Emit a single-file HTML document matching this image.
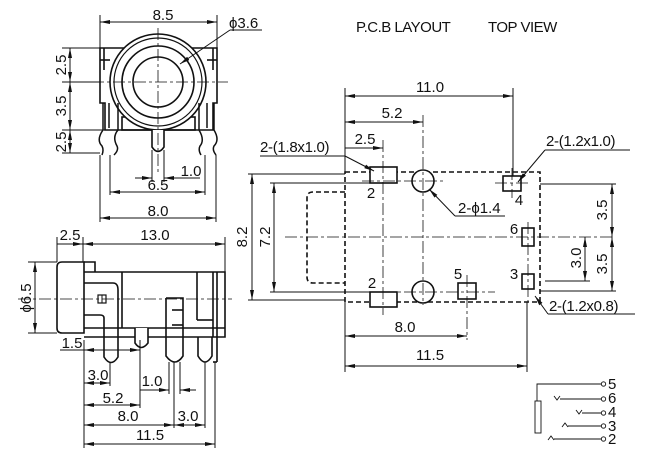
<!DOCTYPE html>
<html><head><meta charset="utf-8"><style>
html,body{margin:0;padding:0;background:#fff}
svg{display:block}
text{font-family:"Liberation Sans",sans-serif;font-size:15px;fill:#111}
</style></head><body>
<svg width="656" height="454" viewBox="0 0 656 454" xmlns="http://www.w3.org/2000/svg">
<defs>
<marker id="a" viewBox="0 0 10 4" refX="10" refY="2" markerWidth="10" markerHeight="4" orient="auto-start-reverse" markerUnits="userSpaceOnUse"><path d="M0,0L10,2L0,4z" fill="#111"/></marker>
</defs>
<g fill="none" stroke="#111" stroke-width="1">
<!-- FRONT VIEW -->
<line x1="100" y1="15" x2="100" y2="48"/><line x1="217" y1="15" x2="217" y2="48"/>
<line x1="100" y1="22" x2="217" y2="22" marker-start="url(#a)" marker-end="url(#a)"/>
<g stroke-width="1.6">
<path d="M100,48H217V103H213V130H105V103H100Z"/>
<line x1="104" y1="48" x2="104" y2="70"/><line x1="213" y1="48" x2="213" y2="70"/>
<line x1="100" y1="60" x2="110" y2="60"/><line x1="207" y1="60" x2="217" y2="60"/>
<rect x="122" y="117" width="73" height="13"/>
</g>
<circle cx="158" cy="82" r="48" fill="#fff" stroke-width="1.6"/>
<circle cx="158" cy="82" r="44" stroke-width="1.2"/>
<circle cx="158" cy="82" r="36" stroke-width="1.6"/>
<circle cx="158" cy="82" r="25" stroke-width="1.6"/>
<path d="M152,130V147Q158,156 164,147V130" stroke-width="1.6" fill="#fff"/>
<g stroke-width="1.5">
<path d="M103,103V130Q96,140 102,146Q104,150 102,155"/><path d="M118,103V130Q112,137 117,146Q119,150 114,155"/>
<path d="M109,103V128"/><path d="M207,103V128"/>
<path d="M199,103V130Q205,140 200,146Q198,150 201,155"/><path d="M214,103V130Q220,140 214,146Q212,150 216,155"/>
</g>
<g stroke-dasharray="12,3,3,3" stroke-width="0.8">
<line x1="92" y1="82" x2="228" y2="82"/><line x1="158" y1="28" x2="158" y2="175"/>
</g>
<line x1="262" y1="30" x2="230" y2="30"/><line x1="230" y1="30" x2="180" y2="64" marker-end="url(#a)"/>
<line x1="62" y1="48" x2="100" y2="48"/><line x1="62" y1="82" x2="100" y2="82"/><line x1="62" y1="130" x2="105" y2="130"/><line x1="62" y1="153" x2="100" y2="153"/>
<line x1="70" y1="48" x2="70" y2="82" marker-start="url(#a)" marker-end="url(#a)"/>
<line x1="70" y1="82" x2="70" y2="130" marker-start="url(#a)" marker-end="url(#a)"/>
<line x1="70" y1="130" x2="70" y2="153" marker-start="url(#a)" marker-end="url(#a)"/>
<line x1="152" y1="150" x2="152" y2="182"/><line x1="164" y1="150" x2="164" y2="182"/>
<line x1="135" y1="178" x2="152" y2="178" marker-end="url(#a)"/><line x1="164" y1="178" x2="200" y2="178" marker-start="url(#a)"/>
<line x1="110" y1="155" x2="110" y2="195"/><line x1="205" y1="155" x2="205" y2="195"/>
<line x1="110" y1="192" x2="205" y2="192" marker-start="url(#a)" marker-end="url(#a)"/>
<line x1="100" y1="155" x2="100" y2="222"/><line x1="216" y1="155" x2="216" y2="222"/>
<line x1="100" y1="218" x2="216" y2="218" marker-start="url(#a)" marker-end="url(#a)"/>

<!-- SIDE VIEW -->
<line x1="57" y1="237" x2="57" y2="262"/><line x1="83" y1="237" x2="83" y2="262"/><line x1="225" y1="237" x2="225" y2="272"/>
<line x1="57" y1="244" x2="83" y2="244" marker-end="url(#a)"/><line x1="83" y1="244" x2="225" y2="244" marker-start="url(#a)" marker-end="url(#a)"/>
<g stroke-width="1.6">
<path d="M62,262H84V333H62Q57,333 57,328V267Q57,262 62,262Z"/>
<path d="M84,262H95V272"/>
<path d="M84,272H225V337H84"/>
<line x1="84" y1="328" x2="225" y2="328"/>
<line x1="122" y1="272" x2="122" y2="328"/>
<line x1="197" y1="272" x2="197" y2="320"/><line x1="197" y1="320" x2="213" y2="320"/>
<line x1="213" y1="272" x2="213" y2="337"/><line x1="217" y1="272" x2="217" y2="362"/>
<path d="M84,283H113Q118,283 118,290V357Q111,368 104,357V318Q104,315 100,315H84"/>
<path d="M135,328V343Q141,352 148,343V328" fill="#fff"/>
<path d="M166,298H183V310M183,298V356Q175,368 166,356V298"/>
<line x1="172" y1="310" x2="183" y2="310"/><line x1="172" y1="325" x2="183" y2="325"/>
<path d="M198,337V356Q205,368 212,356V337"/>
<line x1="213" y1="362" x2="217" y2="362"/>
<rect x="98" y="295" width="8" height="8" stroke-width="1.2"/><line x1="102" y1="295" x2="102" y2="303" stroke-width="1"/>
</g>
<line x1="18" y1="299" x2="232" y2="299" stroke-dasharray="12,3,3,3" stroke-width="0.8"/>
<line x1="28" y1="262" x2="57" y2="262"/><line x1="28" y1="333" x2="57" y2="333"/>
<line x1="35" y1="262" x2="35" y2="333" marker-start="url(#a)" marker-end="url(#a)"/>
<line x1="60" y1="350" x2="84" y2="350"/><line x1="84" y1="350" x2="140" y2="350" marker-start="url(#a)" marker-end="url(#a)"/>
<line x1="84" y1="340" x2="84" y2="448"/>
<line x1="110" y1="362" x2="110" y2="386"/><line x1="84" y1="383" x2="110" y2="383" marker-start="url(#a)" marker-end="url(#a)"/>
<line x1="140" y1="340" x2="140" y2="408"/><line x1="169" y1="362" x2="169" y2="394"/><line x1="180" y1="362" x2="180" y2="394"/>
<line x1="140" y1="390" x2="169" y2="390" marker-end="url(#a)"/><line x1="180" y1="390" x2="196" y2="390" marker-start="url(#a)"/>
<line x1="84" y1="405" x2="140" y2="405" marker-start="url(#a)" marker-end="url(#a)"/>
<line x1="174" y1="362" x2="174" y2="428"/><line x1="205" y1="362" x2="205" y2="428"/><line x1="215" y1="362" x2="215" y2="448"/>
<line x1="84" y1="425" x2="174" y2="425" marker-start="url(#a)" marker-end="url(#a)"/>
<line x1="174" y1="425" x2="205" y2="425" marker-start="url(#a)" marker-end="url(#a)"/>
<line x1="84" y1="444" x2="215" y2="444" marker-start="url(#a)" marker-end="url(#a)"/>

<!-- PCB LAYOUT -->
<rect x="345" y="172" width="195" height="130" stroke-dasharray="5,3" stroke-width="1.6"/>
<path d="M345,192H313Q307,192 307,198V277Q307,283 313,283H345" stroke-dasharray="5,3" stroke-width="1.6"/>
<g stroke-width="1.6" fill="#fff">
<rect x="370" y="167" width="27" height="16"/><rect x="370" y="292" width="27" height="15"/>
<circle cx="423" cy="181" r="11"/><circle cx="423" cy="292" r="11"/>
<rect x="503" y="176" width="18" height="15"/><rect x="522" y="228" width="12" height="18"/>
<rect x="522" y="274" width="12" height="15"/><rect x="458" y="283" width="18" height="16"/>
</g>
<g stroke-dasharray="12,3,3,3" stroke-width="0.8">
<line x1="285" y1="237" x2="615" y2="237"/>
<line x1="383" y1="140" x2="383" y2="315"/><line x1="423" y1="115" x2="423" y2="305"/>
<line x1="362" y1="181" x2="445" y2="181"/><line x1="362" y1="292" x2="495" y2="292"/>
<line x1="467" y1="275" x2="467" y2="340"/><line x1="512" y1="168" x2="512" y2="198"/>
<line x1="528" y1="222" x2="528" y2="302"/><line x1="495" y1="183" x2="530" y2="183"/>
</g>
<line x1="345" y1="88" x2="345" y2="172"/><line x1="513" y1="88" x2="513" y2="176"/>
<line x1="345" y1="96" x2="513" y2="96" marker-start="url(#a)" marker-end="url(#a)"/>
<line x1="345" y1="122" x2="423" y2="122" marker-start="url(#a)" marker-end="url(#a)"/>
<line x1="345" y1="148" x2="383" y2="148" marker-end="url(#a)"/>
<line x1="260" y1="156" x2="345" y2="156"/><line x1="345" y1="156" x2="374" y2="171" marker-end="url(#a)"/>
<line x1="630" y1="150" x2="545" y2="150"/><line x1="545" y1="150" x2="518" y2="182" marker-end="url(#a)"/>
<line x1="505" y1="216" x2="455" y2="216"/><line x1="455" y1="216" x2="429" y2="189" marker-end="url(#a)"/>
<line x1="635" y1="314" x2="548" y2="314"/><line x1="548" y1="314" x2="535" y2="296" marker-end="url(#a)"/>
<line x1="248" y1="174" x2="345" y2="174"/><line x1="248" y1="300" x2="345" y2="300"/>
<line x1="252" y1="174" x2="252" y2="300" marker-start="url(#a)" marker-end="url(#a)"/>
<line x1="270" y1="183" x2="370" y2="183"/><line x1="270" y1="292" x2="370" y2="292"/>
<line x1="274" y1="183" x2="274" y2="292" marker-start="url(#a)" marker-end="url(#a)"/>
<line x1="540" y1="184" x2="616" y2="184"/><line x1="540" y1="291" x2="616" y2="291"/><line x1="545" y1="281" x2="590" y2="281"/>
<line x1="612" y1="184" x2="612" y2="237" marker-start="url(#a)" marker-end="url(#a)"/>
<line x1="612" y1="237" x2="612" y2="291" marker-start="url(#a)" marker-end="url(#a)"/>
<line x1="585" y1="237" x2="585" y2="281" marker-start="url(#a)" marker-end="url(#a)"/>
<line x1="345" y1="302" x2="345" y2="372"/><line x1="527" y1="302" x2="527" y2="372"/>
<line x1="345" y1="336" x2="467" y2="336" marker-start="url(#a)" marker-end="url(#a)"/>
<line x1="345" y1="366" x2="527" y2="366" marker-start="url(#a)" marker-end="url(#a)"/>

<g stroke-width="0.9">
<path d="M537,401V384H601"/><rect x="535" y="401" width="6" height="32"/>
<path d="M554,396L557,400L560,396M560,399H601"/>
<path d="M576,410L579,414L582,410M582,413H601"/>
<path d="M562,427L565,423L568,427M568,426H601"/>
<path d="M548,440L551,436L554,440M554,439H601"/>
<circle cx="603.5" cy="384" r="2.2"/><circle cx="603.5" cy="399" r="2.2"/><circle cx="603.5" cy="413" r="2.2"/><circle cx="603.5" cy="426" r="2.2"/><circle cx="603.5" cy="439" r="2.2"/>
</g>
</g>
<text x="163" y="20" text-anchor="middle">8.5</text>
<text x="229" y="28">ϕ3.6</text>
<text transform="translate(66,65) rotate(-90)" text-anchor="middle">2.5</text>
<text transform="translate(66,106) rotate(-90)" text-anchor="middle">3.5</text>
<text transform="translate(66,142) rotate(-90)" text-anchor="middle">2.5</text>
<text x="191" y="176" text-anchor="middle">1.0</text>
<text x="158" y="190" text-anchor="middle">6.5</text>
<text x="158" y="216" text-anchor="middle">8.0</text>
<text x="70" y="240" text-anchor="middle">2.5</text>
<text x="155" y="240" text-anchor="middle">13.0</text>
<text transform="translate(31,298) rotate(-90)" text-anchor="middle">ϕ6.5</text>
<text x="72" y="348" text-anchor="middle">1.5</text>
<text x="98" y="380" text-anchor="middle">3.0</text>
<text x="152" y="386" text-anchor="middle">1.0</text>
<text x="113" y="403" text-anchor="middle">5.2</text>
<text x="128" y="421" text-anchor="middle">8.0</text>
<text x="188" y="421" text-anchor="middle">3.0</text>
<text x="150" y="440" text-anchor="middle">11.5</text>
<text x="356" y="32" style="font-size:15px;letter-spacing:-0.5px">P.C.B LAYOUT</text>
<text x="488" y="32" style="font-size:15px;letter-spacing:-0.5px">TOP VIEW</text>
<text x="430" y="92" text-anchor="middle">11.0</text>
<text x="392" y="118" text-anchor="middle">5.2</text>
<text x="365" y="144" text-anchor="middle">2.5</text>
<text x="260" y="152" style="letter-spacing:-0.3px">2-(1.8x1.0)</text>
<text x="546" y="146" style="letter-spacing:-0.3px">2-(1.2x1.0)</text>
<text x="458" y="213">2-ϕ1.4</text>
<text x="549" y="311" style="letter-spacing:-0.3px">2-(1.2x0.8)</text>
<text x="371" y="198" text-anchor="middle">2</text>
<text x="372" y="288" text-anchor="middle">2</text>
<text x="519" y="205" text-anchor="middle">4</text>
<text x="514" y="234" text-anchor="middle">6</text>
<text x="514" y="279" text-anchor="middle">3</text>
<text x="458" y="279" text-anchor="middle">5</text>
<text transform="translate(247,237) rotate(-90)" text-anchor="middle">8.2</text>
<text transform="translate(270,237) rotate(-90)" text-anchor="middle">7.2</text>
<text transform="translate(607,210) rotate(-90)" text-anchor="middle">3.5</text>
<text transform="translate(607,264) rotate(-90)" text-anchor="middle">3.5</text>
<text transform="translate(581,258) rotate(-90)" text-anchor="middle">3.0</text>
<text x="405" y="332" text-anchor="middle">8.0</text>
<text x="430" y="360" text-anchor="middle">11.5</text>
<text x="608" y="389">5</text>
<text x="608" y="403">6</text>
<text x="608" y="417">4</text>
<text x="608" y="431">3</text>
<text x="608" y="444">2</text>
</svg>
</body></html>
